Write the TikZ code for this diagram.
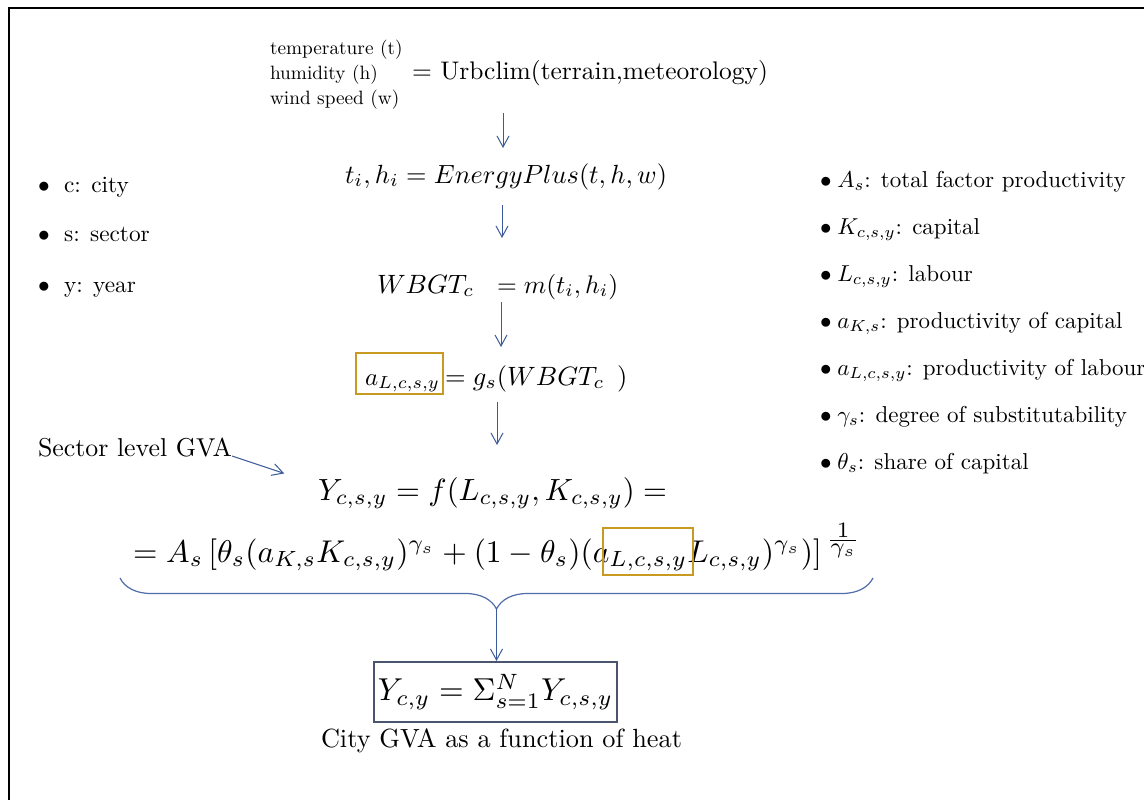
\documentclass[tikz,border=0pt]{standalone}
\usepackage{graphicx}
\usepackage{amsmath}
\usetikzlibrary{arrows.meta,decorations.pathreplacing,fit}
\definecolor{arrowblue}{HTML}{3A5A9A}
\definecolor{braceblue}{HTML}{4F6DA8}
\definecolor{boxgold}{HTML}{C99A22}
\definecolor{boxslate}{HTML}{4A5670}
\tikzset{
  lbl/.style={inner sep=0pt, outer sep=0pt, anchor=base west},
  arr/.style={draw=arrowblue, line width=1pt,
    -{Straight Barb[length=11pt,width=12pt,line width=1pt]}},
  goldbox/.style={draw=boxgold, line width=2pt, inner sep=0pt},
  slatebox/.style={draw=boxslate, line width=2pt, inner sep=0pt},
  frame/.style={draw=black, line width=2.2pt},
}
\newcommand{\lft}[1]{\scalebox{2.33}{\makebox[11.2pt][l]{$\bullet$}#1}}
\newcommand{\rgt}[1]{\scalebox{2.3}{\makebox[7.5pt][l]{$\bullet$}#1}}
\begin{document}
\begin{tikzpicture}[x=1pt,y=-1pt]
\useasboundingbox (0,0) rectangle (1144,800);
\fill[white] (0,0) rectangle (1144,800);
\draw[frame] (9,800) -- (9,8) -- (1144,8);

% climate inputs
\node[lbl] (t1) at (270,55) {\scalebox{1.93}{temperature (t)}};
\node[lbl] (t2) at (270,80) {\scalebox{1.93}{humidity (h)}};
\node[lbl, text depth=8pt] (t3) at (270,105) {\scalebox{1.93}{wind speed (w)}};
\node[lbl] (urb) at (412,80) {\resizebox{356pt}{!}{$=$ Urbclim(terrain,meteorology)}};

% chain of models
\node[lbl, text height=35pt, text depth=22pt] (ep) at (345,183)
  {\resizebox{322pt}{!}{$t_i, h_i = EnergyPlus(t,h,w)$}};
\node[lbl] (wb1) at (377,293) {\scalebox{2.65}{$WBGT_c$}};
\node[lbl, text height=55pt, text depth=9pt] (wb2) at (497,293)
  {\scalebox{2.55}{$= m(t_i,h_i)$}};
\node[lbl] (al) at (365,385) {\resizebox{75pt}{!}{$a_{L,c,s,y}$}};
\node[goldbox, fit={(356,353) (443,394)}] (albox) {};
\node[lbl, text height=38pt, text depth=17pt] (gs1) at (445,385)
  {\scalebox{2.65}{$= g_s(WBGT_c$}};
\node[lbl] (gs2) at (617,385) {\scalebox{2.65}{$)$}};

% sector and city output
\node[lbl] (sector) at (38,456) {\resizebox{194pt}{!}{Sector level GVA}};
\node[lbl, text height=55pt, text depth=24.4pt] (yl1) at (318,500)
  {\resizebox{349pt}{!}{$Y_{c,s,y} = f(L_{c,s,y}, K_{c,s,y}) =$}};
\node[lbl] (yl2) at (133,562)
  {\resizebox{728pt}{!}{$= A_s \left[\theta_s (a_{K,s} K_{c,s,y})^{\gamma_s} + (1-\theta_s)(a_{L,c,s,y} L_{c,s,y})^{\gamma_s})\right]^{\kern1.5pt\frac{\scriptstyle 1}{\scriptstyle\gamma_s}}$}};
\node[goldbox, fit={(603,528) (693,575)}] (albox2) {};
\node[slatebox, minimum width=243pt, minimum height=60pt] (yc) at (495.5,692)
  {\resizebox{235pt}{!}{$Y_{c,y} = \Sigma_{s=1}^N Y_{c,s,y}$}};
\node[lbl] (city) at (321,747) {\resizebox{361pt}{!}{City GVA as a function of heat}};

% index legend
\node[lbl] (l1) at (38,192) {\lft{c: city}};
\node[lbl] (l2) at (38,241) {\lft{s: sector}};
\node[lbl] (l3) at (38,292) {\lft{y: year}};

% parameter legend
\node[lbl] (r1) at (820,187) {\rgt{$A_s$: total factor productivity}};
\node[lbl] (r2) at (820,234) {\rgt{$K_{c,s,y}$: capital}};
\node[lbl] (r3) at (820,281) {\rgt{$L_{c,s,y}$: labour}};
\node[lbl] (r4) at (820,328) {\rgt{$a_{K,s}$: productivity of capital}};
\node[lbl] (r5) at (820,375) {\rgt{$a_{L,c,s,y}$: productivity of labour}};
\node[lbl] (r6) at (820,422) {\rgt{$\gamma_s$: degree of substitutability}};
\node[lbl] (r7) at (820,469) {\rgt{$\theta_s$: share of capital}};

% connectors
\draw[arr] (t3.south -| 503,0) -- (ep.north -| 503,0);
\draw[arr] (ep.south -| 502,0) -- (wb2.north -| 502,0);
\draw[arr] (wb2.south -| 501,0) -- (gs1.north -| 501,0);
\draw[arr] (gs1.south -| 497,0) -- (yl1.north -| 497,0);
\draw[arr, shorten >=35.6pt] (sector.base east) -- (yl1.west);

\coordinate (bl) at (120,578);
\coordinate (br) at (873,578);
\coordinate (bt) at (496.5,609);
\draw[braceblue, line width=1.2pt, decorate,
  decoration={brace, mirror, amplitude=31pt}] (bl) -- (br);
\draw[arr] (bt) -- (yc.north -| bt);
\end{tikzpicture}
\end{document}
